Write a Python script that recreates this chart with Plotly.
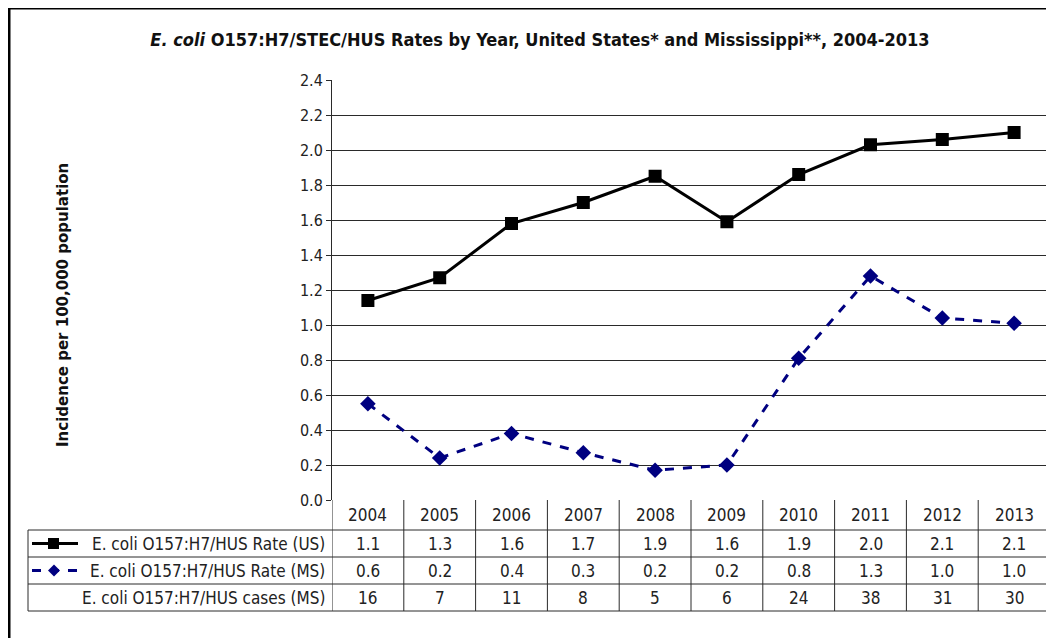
import plotly.graph_objects as go

years = [2004, 2005, 2006, 2007, 2008, 2009, 2010, 2011, 2012, 2013]
us_rate = [1.14, 1.27, 1.58, 1.70, 1.85, 1.59, 1.86, 2.03, 2.06, 2.10]
ms_rate = [0.55, 0.24, 0.38, 0.27, 0.17, 0.20, 0.81, 1.28, 1.04, 1.01]
us_table = ["1.1", "1.3", "1.6", "1.7", "1.9", "1.6", "1.9", "2.0", "2.1", "2.1"]
ms_table = ["0.6", "0.2", "0.4", "0.3", "0.2", "0.2", "0.8", "1.3", "1.0", "1.0"]
ms_cases = ["16", "7", "11", "8", "5", "6", "24", "38", "31", "30"]
row_labels = ["E. coli O157:H7/HUS Rate (US)", "E. coli O157:H7/HUS Rate (MS)", "E. coli O157:H7/HUS cases (MS)"]
y_ticks = [0.0, 0.2, 0.4, 0.6, 0.8, 1.0, 1.2, 1.4, 1.6, 1.8, 2.0, 2.2, 2.4]

OFF = 8  # page body margin
W, H = 1054 - OFF, 638 - OFF
# reference page-pixel positions
L0, R0, T0, B0 = 332, 1050, 80, 500
L, R, T, B = L0 - OFF, R0 - OFF, T0 - OFF, B0 - OFF
NAVY = "#000080"
FONT = "DejaVu Sans Condensed, sans-serif"


def xp(px):
    return (px - OFF - L) / (R - L)


def yp(py):
    return (B - (py - OFF)) / (B - T)


fig = go.Figure()
fig.add_trace(go.Scatter(x=years, y=us_rate, mode="lines+markers",
                         line=dict(color="black", width=3),
                         marker=dict(symbol="square", size=13, color="black"),
                         showlegend=False, hoverinfo="skip"))
fig.add_trace(go.Scatter(x=years, y=ms_rate, mode="lines+markers",
                         line=dict(color=NAVY, width=3, dash="dash"),
                         marker=dict(symbol="diamond", size=12, color=NAVY),
                         showlegend=False, hoverinfo="skip"))

shapes = []
ann = []
rows = [500, 530, 557, 584, 611]
tl = 28
GRID = "#2a2a2a"
for r in rows[1:]:
    shapes.append(dict(type="line", xref="paper", yref="paper", x0=xp(tl), x1=1, y0=yp(r), y1=yp(r),
                       line=dict(color=GRID, width=1)))
for k in range(len(years) + 1):
    xv = years[0] - 0.5 + k
    shapes.append(dict(type="line", xref="x", yref="paper", x0=xv, x1=xv, y0=yp(rows[0]), y1=yp(rows[-1]),
                       line=dict(color=GRID, width=1)))
shapes.append(dict(type="line", xref="paper", yref="paper", x0=xp(tl), x1=xp(tl), y0=yp(rows[1]), y1=yp(rows[-1]),
                   line=dict(color=GRID, width=1)))
# outer frame (thick black, top and left)
shapes.append(dict(type="line", xref="paper", yref="paper", x0=xp(9), x1=xp(9), y0=yp(7), y1=yp(650),
                   line=dict(color="black", width=3)))
shapes.append(dict(type="line", xref="paper", yref="paper", x0=xp(8), x1=xp(1070), y0=yp(8), y1=yp(8),
                   line=dict(color="black", width=3)))

# legend samples
cy1 = (rows[1] + rows[2]) / 2
cy2 = (rows[2] + rows[3]) / 2
shapes.append(dict(type="line", xref="paper", yref="paper", x0=xp(32), x1=xp(78), y0=yp(cy1), y1=yp(cy1),
                   line=dict(color="black", width=3)))
shapes.append(dict(type="rect", xref="paper", yref="paper", x0=xp(48), x1=xp(59), y0=yp(cy1 - 5.5), y1=yp(cy1 + 5.5),
                   fillcolor="black", line=dict(color="black", width=0)))
shapes.append(dict(type="line", xref="paper", yref="paper", x0=xp(32), x1=xp(78), y0=yp(cy2), y1=yp(cy2),
                   line=dict(color=NAVY, width=3, dash="dash")))
dx, dy = 6, 6
cx = 54
path = "M {} {} L {} {} L {} {} L {} {} Z".format(
    xp(cx - dx), yp(cy2), xp(cx), yp(cy2 - dy), xp(cx + dx), yp(cy2), xp(cx), yp(cy2 + dy))
shapes.append(dict(type="path", xref="paper", yref="paper", path=path, fillcolor=NAVY,
                   line=dict(color=NAVY, width=0)))

tfont = dict(family=FONT, size=17, color="#222")
table_rows = [[str(y) for y in years], us_table, ms_table, ms_cases]
for ri, vals in enumerate(table_rows):
    cy = (rows[ri] + rows[ri + 1]) / 2
    for yr, v in zip(years, vals):
        ann.append(dict(x=yr, y=yp(cy), xref="x", yref="paper", text=v, showarrow=False,
                        font=tfont, xanchor="center", yanchor="middle"))
for ri, lab in enumerate(row_labels):
    cy = (rows[ri + 1] + rows[ri + 2]) / 2
    ann.append(dict(x=xp(327), y=yp(cy), xref="paper", yref="paper", text=lab, showarrow=False,
                    font=tfont, xanchor="right", yanchor="middle"))

ann.append(dict(x=xp(63), y=yp(305), xref="paper", yref="paper", text="<b>Incidence per 100,000 population</b>",
                textangle=-90, showarrow=False, font=dict(family="DejaVu Sans, sans-serif", size=15, color="#111"),
                xanchor="center", yanchor="middle"))

fig.update_layout(
    width=W, height=H,
    margin=dict(l=L, r=W - R, t=T, b=H - B, pad=0),
    paper_bgcolor="white", plot_bgcolor="white",
    title=dict(text="<b><i>E. coli</i> O157:H7/STEC/HUS Rates by Year, United States* and Mississippi**, 2004-2013</b>",
               x=(540 - OFF) / W, xanchor="center", xref="container",
               y=1 - (40 - OFF) / H, yanchor="middle", yref="container",
               font=dict(family=FONT, size=18, color="#111")),
    xaxis=dict(range=[years[0] - 0.5, years[-1] + 0.5], showticklabels=False, showgrid=False,
               zeroline=False, showline=False, ticks=""),
    yaxis=dict(range=[0, 2.4], tickvals=y_ticks, ticktext=["{:.1f}".format(v) for v in y_ticks],
               showgrid=True, gridcolor=GRID, gridwidth=1, zeroline=False,
               showline=True, linecolor=GRID, linewidth=1, mirror=True,
               ticks="outside", ticklen=5, tickcolor=GRID,
               tickfont=dict(family=FONT, size=16, color="#222")),
    shapes=shapes, annotations=ann,
)

fig.write_html("out.html")
